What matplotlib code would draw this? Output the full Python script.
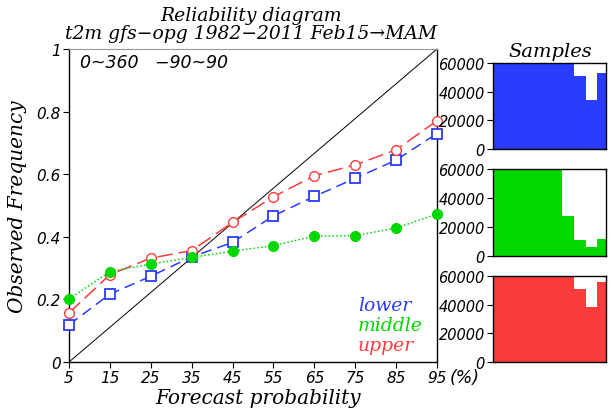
import numpy as np
import matplotlib
matplotlib.use('Agg')
from matplotlib import pyplot as plt

PROB = [5, 15, 25, 35, 45, 55, 65, 75, 85, 95]

LOWER = [0.119, 0.217, 0.274, 0.336, 0.382, 0.467, 0.529, 0.587, 0.645, 0.730]
MIDDLE = [0.201, 0.289, 0.313, 0.334, 0.354, 0.372, 0.402, 0.404, 0.428, 0.473]
UPPER = [0.157, 0.279, 0.332, 0.356, 0.446, 0.528, 0.595, 0.630, 0.678, 0.771]

# sample counts per bin (first bins go off the top of the 60000 axis)
BIN_EDGES = [0, 10, 20, 30, 40, 50, 60, 70, 80, 90]
N_LOWER = [150000, 110000, 90000, 80000, 75000, 70000, 65000, 50700, 34400, 53000]
N_MIDDLE = [200000, 140000, 100000, 80000, 70000, 62000, 27900, 11000, 6400, 11900]
N_UPPER = [150000, 110000, 90000, 80000, 75000, 70000, 65000, 50800, 38500, 55800]

BLUE = '#2a3cff'
GREEN = '#00d800'
RED = '#fc3c3c'

SERIF = dict(family='DejaVu Serif', style='italic')
SANS = dict(family='DejaVu Sans', style='oblique')

fig = plt.figure(figsize=(6.14, 4.10), dpi=100)

ax = fig.add_axes([0.1124, 0.1146, 0.5993, 0.7634])
ax.plot([5, 95], [0, 1], color='black', lw=0.7)
ax.plot(PROB, LOWER, color=BLUE, lw=1.1, dashes=(7, 4), marker='s', ms=6.5,
        mfc='white', mec=BLUE, mew=1.3, clip_on=False, zorder=3)
ax.plot(PROB, UPPER, color=RED, lw=1.1, dashes=(10, 4), marker='o', ms=7,
        mfc='white', mec=RED, mew=1.0, clip_on=False, zorder=3)
ax.plot(PROB, MIDDLE, color=GREEN, lw=1.1, dashes=(1, 1.5), marker='o', ms=7,
        mfc=GREEN, mec=GREEN, clip_on=False, zorder=4)

ax.set_xlim(5, 95)
ax.set_ylim(0, 1)
ax.set_xticks(PROB)
ax.set_xticklabels([str(p) for p in PROB], fontdict=SANS, fontsize=11)
ax.set_yticks([0, 0.2, 0.4, 0.6, 0.8, 1])
ax.set_yticklabels(['0', '0.2', '0.4', '0.6', '0.8', '1'], fontdict=SANS, fontsize=11)
ax.tick_params(direction='out', length=4, width=0.8, pad=2)
ax.spines['top'].set_color('#999999')
for s in ['left', 'bottom', 'right']:
    ax.spines[s].set_linewidth(1.0)

ax.text(0.03, 0.958, '0~360   \u221290~90', transform=ax.transAxes,
        fontsize=12.5, va='center', ha='left', **SANS)
ax.text(0.785, 0.182, 'lower', color=BLUE, transform=ax.transAxes,
        fontsize=13.5, va='center', **SERIF)
ax.text(0.785, 0.118, 'middle', color=GREEN, transform=ax.transAxes,
        fontsize=13.5, va='center', **SERIF)
ax.text(0.785, 0.054, 'upper', color=RED, transform=ax.transAxes,
        fontsize=13.5, va='center', **SERIF)

fig.text(0.409, 0.961, 'Reliability diagram', ha='center', va='center',
         fontsize=13.5, **SERIF)
fig.text(0.409, 0.916, 't2m gfs\u2212opg 1982\u22122011 Feb15\u2192MAM',
         ha='center', va='center', fontsize=13.5, **SERIF)
fig.text(0.029, 0.495, 'Observed Frequency', rotation=90, ha='center',
         va='center', fontsize=14.5, **SERIF)
fig.text(0.42, 0.029, 'Forecast probability', ha='center', va='center',
         fontsize=14.5, **SERIF)
fig.text(0.757, 0.078, '(%)', ha='center', va='center', fontsize=12.5, **SANS)
fig.text(0.896, 0.873, 'Samples', ha='center', va='center', fontsize=14, **SERIF)

panels = [
    ([0.803, 0.634, 0.184, 0.2098], N_LOWER, BLUE),
    ([0.803, 0.3732, 0.184, 0.2122], N_MIDDLE, GREEN),
    ([0.803, 0.1146, 0.184, 0.2098], N_UPPER, RED),
]
for rect, counts, color in panels:
    hx = fig.add_axes(rect)
    hx.bar(BIN_EDGES, counts, width=10, align='edge', color=color, lw=0)
    hx.set_xlim(0, 97.7)
    hx.set_ylim(0, 60000)
    hx.set_xticks([])
    hx.set_yticks([0, 20000, 40000, 60000])
    hx.set_yticklabels(['0', '20000', '40000', '60000'], fontdict=SANS, fontsize=10.5)
    hx.tick_params(direction='out', length=4, width=0.8, pad=2)
    for s in hx.spines.values():
        s.set_linewidth(1.0)

fig.savefig('out.png', dpi=100)
